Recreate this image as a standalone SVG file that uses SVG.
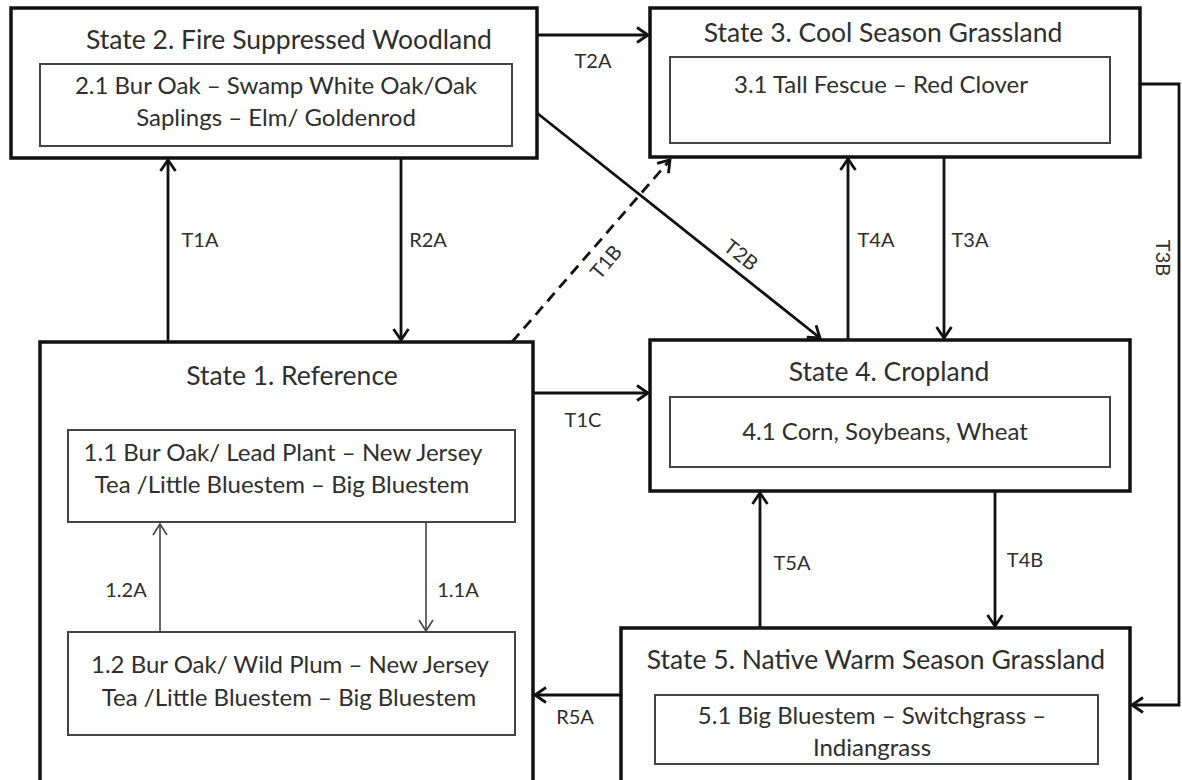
<svg xmlns="http://www.w3.org/2000/svg" width="1182" height="780" viewBox="0 0 1182 780">
<style>
.outer{fill:#fff;stroke:#111;stroke-width:3.5}
.inner{fill:#fff;stroke:#444;stroke-width:2}
.t{font-family:Lato,"Liberation Sans",sans-serif;fill:#2e2e2e;text-anchor:middle}
.title{font-size:26.5px}
.body{font-size:24px}
.lab{font-size:20px}
.c{fill:none;stroke:#111;stroke-width:2.8}
.ci{fill:none;stroke:#444;stroke-width:1.6}
</style>
<defs>
<marker id="a" markerWidth="16" markerHeight="18" refX="13" refY="9" orient="auto" markerUnits="userSpaceOnUse">
<path d="M2,1.5 L13,9 L2,16.5" fill="none" stroke="#111" stroke-width="2.8"/>
</marker>
<marker id="ai" markerWidth="16" markerHeight="18" refX="13" refY="9" orient="auto" markerUnits="userSpaceOnUse">
<path d="M2,2 L13,9 L2,16" fill="none" stroke="#444" stroke-width="1.6"/>
</marker>
</defs>
<rect width="1182" height="780" fill="#fff"/>

<g id="connectors">
<line class="c" x1="537" y1="35" x2="648" y2="35" marker-end="url(#a)"/>
<line class="c" x1="168" y1="342" x2="168" y2="160" marker-end="url(#a)"/>
<line class="c" x1="401" y1="158" x2="401" y2="340" marker-end="url(#a)"/>
<line class="c" x1="512" y1="342" x2="670" y2="160" stroke-dasharray="11,7" marker-end="url(#a)"/>
<line class="c" x1="537" y1="113" x2="820" y2="338" marker-end="url(#a)"/>
<line class="c" x1="848" y1="340" x2="848" y2="159" marker-end="url(#a)"/>
<line class="c" x1="944" y1="157" x2="944" y2="338" marker-end="url(#a)"/>
<polyline class="c" points="1140,84 1179,84 1179,705 1132,705" marker-end="url(#a)"/>
<line class="c" x1="533" y1="393" x2="648" y2="393" marker-end="url(#a)"/>
<line class="c" x1="760" y1="628" x2="760" y2="493" marker-end="url(#a)"/>
<line class="c" x1="995" y1="491" x2="995" y2="626" marker-end="url(#a)"/>
<line class="c" x1="621" y1="695" x2="535" y2="695" marker-end="url(#a)"/>
<text class="t lab" x="593" y="68">T2A</text>
<text class="t lab" x="200" y="247">T1A</text>
<text class="t lab" x="428" y="247">R2A</text>
<text class="t lab" x="876" y="247">T4A</text>
<text class="t lab" x="970" y="247">T3A</text>
<text class="t lab" x="583" y="427">T1C</text>
<text class="t lab" x="792" y="570">T5A</text>
<text class="t lab" x="1025" y="567">T4B</text>
<text class="t lab" x="575" y="724">R5A</text>
<text class="t lab" transform="translate(1163,258) rotate(90)" y="7">T3B</text>
<text class="t lab" transform="translate(606,262) rotate(-50)" y="7">T1B</text>
<text class="t lab" transform="translate(741,255) rotate(38)" y="7">T2B</text>
</g>

<g id="state2">
<rect class="outer" x="11" y="8" width="526" height="150"/>
<text class="t title" x="289" y="49">State 2. Fire Suppressed Woodland</text>
<rect class="inner" x="40" y="64" width="472" height="82"/>
<text class="t body" x="276" y="94">2.1 Bur Oak – Swamp White Oak/Oak</text>
<text class="t body" x="276" y="126">Saplings – Elm/ Goldenrod</text>
</g>

<g id="state3">
<rect class="outer" x="650" y="8" width="490" height="149"/>
<text class="t title" x="883" y="42">State 3. Cool Season Grassland</text>
<rect class="inner" x="670" y="57" width="440" height="86"/>
<text class="t body" x="881" y="93">3.1 Tall Fescue – Red Clover</text>
</g>

<g id="state1">
<rect class="outer" x="40" y="342" width="493" height="450"/>
<text class="t title" x="292" y="385">State 1. Reference</text>
<rect class="inner" x="68" y="430" width="447" height="92"/>
<text class="t body" x="283" y="461">1.1 Bur Oak/ Lead Plant – New Jersey</text>
<text class="t body" x="282" y="493">Tea /Little Bluestem – Big Bluestem</text>
<rect class="inner" x="68" y="632" width="447" height="103"/>
<text class="t body" x="290" y="673">1.2 Bur Oak/ Wild Plum – New Jersey</text>
<text class="t body" x="289" y="706">Tea /Little Bluestem – Big Bluestem</text>
<line class="ci" x1="160" y1="631" x2="160" y2="524" marker-end="url(#ai)"/>
<line class="ci" x1="426" y1="523" x2="426" y2="631" marker-end="url(#ai)"/>
<text class="t lab" x="126" y="597">1.2A</text>
<text class="t lab" x="458" y="597">1.1A</text>
</g>

<g id="state4">
<rect class="outer" x="650" y="340" width="480" height="151"/>
<text class="t title" x="889" y="381">State 4. Cropland</text>
<rect class="inner" x="670" y="397" width="440" height="70"/>
<text class="t body" x="885" y="440">4.1 Corn, Soybeans, Wheat</text>
</g>

<g id="state5">
<rect class="outer" x="621" y="628" width="509" height="164"/>
<text class="t title" x="876" y="669">State 5. Native Warm Season Grassland</text>
<rect class="inner" x="655" y="695" width="443" height="69"/>
<text class="t body" x="872" y="724">5.1 Big Bluestem – Switchgrass –</text>
<text class="t body" x="872" y="756">Indiangrass</text>
</g>
</svg>
